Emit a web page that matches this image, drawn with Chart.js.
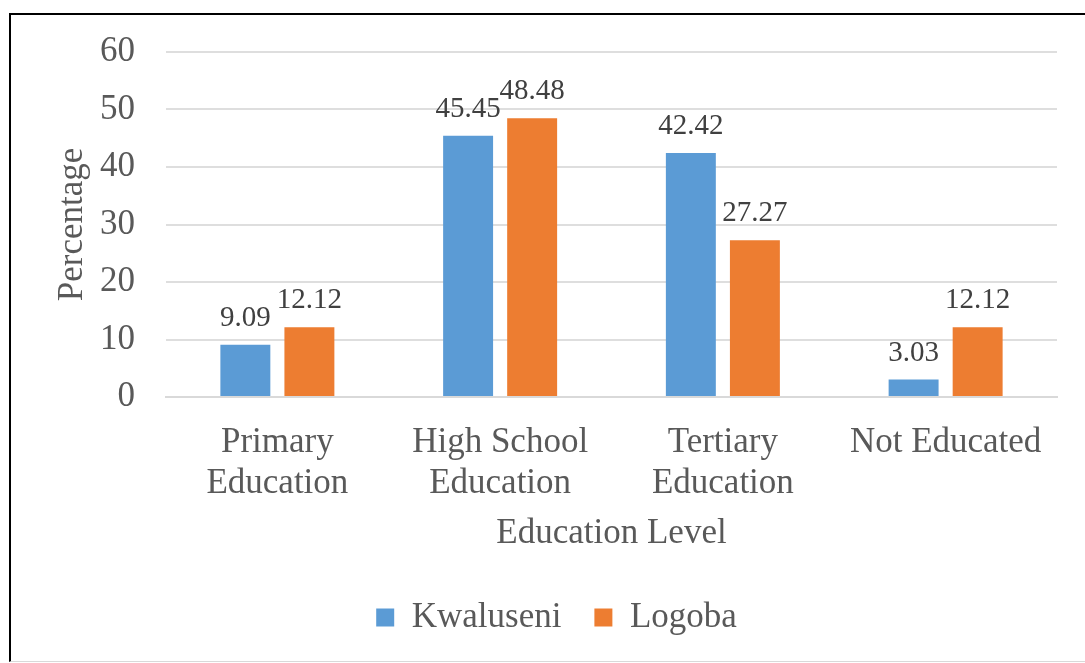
<!DOCTYPE html>
<html>
<head>
<meta charset="utf-8">
<script src="https://cdn.jsdelivr.net/npm/chart.js@4.4.1/dist/chart.umd.min.js"></script>
<style>
  html, body { margin: 0; padding: 0; background: #fff; overflow: hidden; }
  #wrap { position: relative; width: 1085px; height: 663px; overflow: hidden; }
  #frame {
    position: absolute; left: 9px; top: 13px; width: 1100px; height: 646px;
    border-top: 2px solid #000; border-left: 2px solid #000; border-bottom: 1px solid #d9d9d9;
  }
  canvas { position: absolute; left: 0; top: 0; }
</style>
</head>
<body>
<div id="wrap">
  <div id="frame"></div>
  <canvas id="chart" width="1085" height="663"></canvas>
</div>
<script>
// Share of respondents by education level, per site
const categories = [["Primary", "Education"], ["High School", "Education"], ["Tertiary", "Education"], "Not Educated"];
const kwaluseni = [9.09, 45.45, 42.42, 3.03];
const logoba = [12.12, 48.48, 27.27, 12.12];
const yTicks = [0, 10, 20, 30, 40, 50, 60];

const FONT = '"Liberation Serif", "Times New Roman", serif';
const AXIS_TEXT = '#595959';

// Writes each bar's value just above it
const valueLabels = {
  id: 'valueLabels',
  afterDatasetsDraw(chart) {
    const ctx = chart.ctx;
    ctx.save();
    ctx.font = '29px ' + FONT;
    ctx.fillStyle = '#404040';
    ctx.textAlign = 'center';
    ctx.textBaseline = 'alphabetic';
    chart.data.datasets.forEach((ds, i) => {
      chart.getDatasetMeta(i).data.forEach((bar, j) => {
        ctx.fillText(ds.data[j].toFixed(2), bar.x, bar.y - 19);
      });
    });
    ctx.restore();
  }
};

new Chart(document.getElementById('chart'), {
  type: 'bar',
  data: {
    labels: categories,
    datasets: [
      { label: 'Kwaluseni', data: kwaluseni, backgroundColor: '#5B9BD5',
        categoryPercentage: 0.575, barPercentage: 0.78 },
      { label: 'Logoba', data: logoba, backgroundColor: '#ED7D31',
        categoryPercentage: 0.575, barPercentage: 0.78 }
    ]
  },
  options: {
    responsive: false,
    devicePixelRatio: 1,
    animation: false,
    layout: { padding: { left: 56, right: 28, top: 50, bottom: 18 } },
    plugins: {
      tooltip: { enabled: false },
      legend: {
        position: 'bottom',
        labels: {
          boxWidth: 18, boxHeight: 18, padding: 33,
          color: AXIS_TEXT,
          font: { family: FONT, size: 35 }
        }
      }
    },
    scales: {
      x: {
        afterFit(scale) { scale.height = 170; },
        grid: { display: false, drawTicks: false },
        border: { display: true, color: '#d9d9d9', width: 2 },
        ticks: {
          padding: 25, maxRotation: 0, autoSkip: false,
          color: AXIS_TEXT,
          font: { family: FONT, size: 35, lineHeight: '41px' }
        },
        title: {
          display: true, text: 'Education Level', color: AXIS_TEXT,
          padding: { top: 0, bottom: 12 },
          font: { family: FONT, size: 35, lineHeight: 1.2 }
        }
      },
      y: {
        min: 0, max: 60,
        afterFit(scale) { scale.width = 110; },
        afterBuildTicks(scale) { scale.ticks = yTicks.map(v => ({ value: v })); },
        grid: { color: '#dedede', lineWidth: 2, drawTicks: false },
        border: { display: false },
        ticks: {
          padding: 31, color: AXIS_TEXT,
          font: { family: FONT, size: 35 }
        },
        title: {
          display: true, text: 'Percentage', color: AXIS_TEXT,
          padding: { top: -4, bottom: 0 },
          font: { family: FONT, size: 35, lineHeight: 1.2 }
        }
      }
    }
  },
  plugins: [valueLabels]
});
</script>
</body>
</html>
